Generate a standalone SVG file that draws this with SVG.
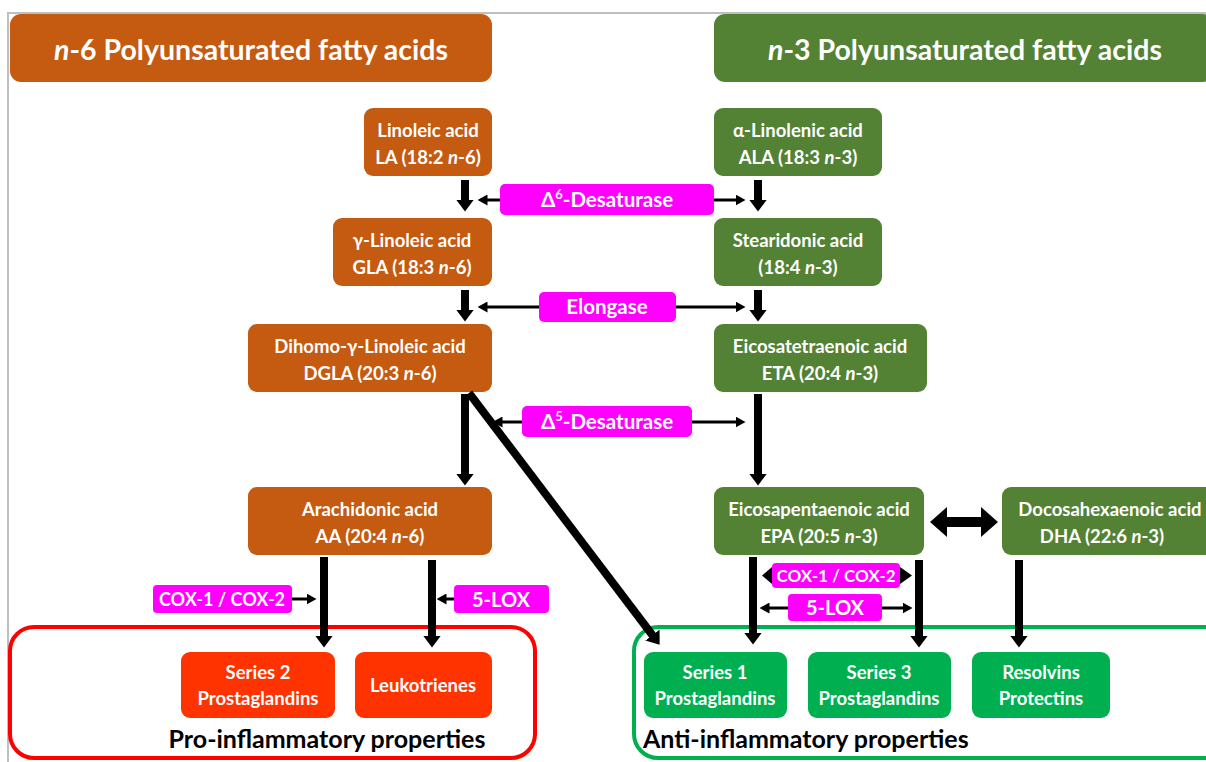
<svg xmlns="http://www.w3.org/2000/svg" width="1206" height="762" viewBox="0 0 1206 762">
<defs>
<style>
text{font-family:Lato,"Carlito","Liberation Sans",sans-serif;font-weight:bold;}
.w{fill:#fff;text-anchor:middle;font-size:18.5px;}
.hd{fill:#fff;text-anchor:middle;font-size:28.5px;}
.en{fill:#fff;text-anchor:middle;font-size:20.5px;}
.cox{fill:#fff;text-anchor:middle;font-size:18px;}
.brown{fill:#C55A11;}
.green{fill:#548235;}
.mag{fill:#FF00FF;}
.red{fill:#FF3300;}
.lg{fill:#00B050;}
.big{stroke:#000;stroke-width:8;fill:none;marker-end:url(#bh);}
.sm{stroke:#000;stroke-width:3;fill:none;marker-end:url(#sh);}
.it{font-style:italic;}
.cap{font-size:25px;fill:#000;}
</style>
<marker id="bh" viewBox="0 0 12 18" markerWidth="12" markerHeight="18" refX="0.5" refY="9" orient="auto" markerUnits="userSpaceOnUse"><path d="M0,0 L12,9 L0,18 z" fill="#000"/></marker>
<marker id="sh" viewBox="0 0 10 11" markerWidth="10" markerHeight="11" refX="0.5" refY="5.5" orient="auto" markerUnits="userSpaceOnUse"><path d="M0,0 L10,5.5 L0,11 z" fill="#000"/></marker>
</defs>
<rect width="1206" height="762" fill="#fff"/>
<path d="M8,762 L8,13 L1206,13" fill="none" stroke="#BFBFBF" stroke-width="2"/>

<g id="header-n6"><rect x="10" y="14" width="482" height="68" rx="11" class="brown"/><text x="251" y="60" class="hd"><tspan class="it">n</tspan>-6 Polyunsaturated fatty acids</text></g>
<g id="header-n3"><rect x="714" y="14" width="500" height="68" rx="11" class="green"/><text x="965" y="60" class="hd"><tspan class="it">n</tspan>-3 Polyunsaturated fatty acids</text></g>

<g id="LA"><rect x="364" y="108" width="128" height="68" rx="9" class="brown"/><text x="428" y="137" class="w">Linoleic acid</text><text x="428" y="164" class="w">LA (18:2 <tspan class="it">n</tspan>-6)</text></g>
<g id="ALA"><rect x="714" y="108" width="168" height="68" rx="9" class="green"/><text x="798" y="137" class="w">α-Linolenic acid</text><text x="798" y="164" class="w">ALA (18:3 <tspan class="it">n</tspan>-3)</text></g>
<g id="GLA"><rect x="333" y="218" width="159" height="68" rx="9" class="brown"/><text x="412" y="247" class="w">γ-Linoleic acid</text><text x="412" y="274" class="w">GLA (18:3 <tspan class="it">n</tspan>-6)</text></g>
<g id="SDA"><rect x="714" y="218" width="168" height="68" rx="9" class="green"/><text x="798" y="247" class="w">Stearidonic acid</text><text x="798" y="274" class="w">(18:4 <tspan class="it">n</tspan>-3)</text></g>
<g id="DGLA"><rect x="248" y="324" width="244" height="68" rx="9" class="brown"/><text x="370" y="353" class="w">Dihomo-γ-Linoleic acid</text><text x="370" y="380" class="w">DGLA (20:3 <tspan class="it">n</tspan>-6)</text></g>
<g id="ETA"><rect x="714" y="324" width="213" height="68" rx="9" class="green"/><text x="820" y="353" class="w">Eicosatetraenoic acid</text><text x="820" y="380" class="w">ETA (20:4 <tspan class="it">n</tspan>-3)</text></g>
<g id="AA"><rect x="248" y="487" width="244" height="68" rx="9" class="brown"/><text x="370" y="516" class="w">Arachidonic acid</text><text x="370" y="543" class="w">AA (20:4 <tspan class="it">n</tspan>-6)</text></g>
<g id="EPA"><rect x="714" y="487" width="210" height="68" rx="9" class="green"/><text x="819" y="516" class="w">Eicosapentaenoic acid</text><text x="819" y="543" class="w">EPA (20:5 <tspan class="it">n</tspan>-3)</text></g>
<g id="DHA"><rect x="1002" y="487" width="214" height="68" rx="9" class="green"/><text x="1110" y="516" class="w">Docosahexaenoic acid</text><text x="1102" y="543" class="w">DHA (22:6 <tspan class="it">n</tspan>-3)</text></g>

<g id="pro-box"><rect x="10" y="627" width="525" height="131" rx="24" fill="none" stroke="#FF0000" stroke-width="4"/><text x="327" y="748" class="cap" text-anchor="middle">Pro-inflammatory properties</text></g>
<g id="anti-box"><rect x="634" y="627" width="600" height="131" rx="24" fill="none" stroke="#00B050" stroke-width="4"/><text x="643" y="748" class="cap">Anti-inflammatory properties</text></g>

<g id="S2"><rect x="181" y="652" width="154" height="66" rx="9" class="red"/><text x="258" y="679" class="w">Series 2</text><text x="258" y="705" class="w">Prostaglandins</text></g>
<g id="LT"><rect x="355" y="652" width="137" height="66" rx="9" class="red"/><text x="423" y="692" class="w">Leukotrienes</text></g>
<g id="S1"><rect x="644" y="652" width="143" height="66" rx="9" class="lg"/><text x="715" y="679" class="w">Series 1</text><text x="715" y="705" class="w">Prostaglandins</text></g>
<g id="S3"><rect x="808" y="652" width="143" height="66" rx="9" class="lg"/><text x="879" y="679" class="w">Series 3</text><text x="879" y="705" class="w">Prostaglandins</text></g>
<g id="RP"><rect x="972" y="652" width="138" height="66" rx="9" class="lg"/><text x="1041" y="679" class="w">Resolvins</text><text x="1041" y="705" class="w">Protectins</text></g>

<g id="D6"><rect x="500" y="184" width="214" height="31" rx="5" class="mag"/><text x="607" y="207" class="en">Δ<tspan font-size="13" dy="-8">6</tspan><tspan dy="8">-Desaturase</tspan></text></g>
<g id="ELO"><rect x="539" y="292" width="137" height="30" rx="5" class="mag"/><text x="607" y="314" class="en">Elongase</text></g>
<g id="D5"><rect x="522" y="406" width="170" height="31" rx="5" class="mag"/><text x="607" y="429" class="en">Δ<tspan font-size="13" dy="-8">5</tspan><tspan dy="8">-Desaturase</tspan></text></g>
<g id="COX-L"><rect x="153" y="585" width="139" height="28" rx="4" class="mag"/><text x="222" y="606" class="cox">COX-1 / COX-2</text></g>
<g id="LOX-L"><rect x="454" y="585" width="95" height="28" rx="4" class="mag"/><text x="501" y="607" class="en" style="font-size:20px">5-LOX</text></g>
<g id="COX-R"><rect x="772" y="563" width="128" height="25" rx="4" class="mag"/><text x="836" y="582" class="cox" style="font-size:17px">COX-1 / COX-2</text></g>
<g id="LOX-R"><rect x="788" y="594" width="94" height="27" rx="4" class="mag"/><text x="835" y="615" class="en" style="font-size:20px">5-LOX</text></g>

<g id="connectors">
<line x1="465" y1="180" x2="465" y2="200" class="big"/>
<line x1="758" y1="180" x2="758" y2="200" class="big"/>
<line x1="465" y1="290" x2="465" y2="310" class="big"/>
<line x1="758" y1="290" x2="758" y2="310" class="big"/>
<line x1="465" y1="394" x2="465" y2="474" class="big"/>
<line x1="758" y1="394" x2="758" y2="474" class="big"/>
<line x1="469" y1="393" x2="652.7" y2="635.5" class="big" stroke-width="7"/>
<line x1="324" y1="557" x2="324" y2="636" class="big"/>
<line x1="432" y1="560" x2="432" y2="636" class="big"/>
<line x1="753" y1="557" x2="753" y2="633" class="big"/>
<line x1="919" y1="560" x2="919" y2="636" class="big"/>
<line x1="1019" y1="560" x2="1019" y2="636" class="big"/>
<line x1="500" y1="200" x2="487" y2="200" class="sm"/>
<line x1="714" y1="200" x2="736" y2="200" class="sm"/>
<line x1="539" y1="307" x2="487" y2="307" class="sm"/>
<line x1="676" y1="307" x2="736" y2="307" class="sm"/>
<line x1="522" y1="422" x2="502" y2="422" class="sm"/>
<line x1="692" y1="422" x2="736" y2="422" class="sm"/>
<line x1="292" y1="599" x2="307" y2="599" class="sm"/>
<line x1="454" y1="599" x2="446" y2="599" class="sm"/>
<path d="M772,567 L762,575.5 L772,584 z M900,567 L912,575.5 L900,584 z" fill="#000"/>
<line x1="788" y1="608" x2="769" y2="608" class="sm"/>
<line x1="882" y1="608" x2="903" y2="608" class="sm"/>
<polygon points="930,522 947,507 947,517 981,517 981,507 998,522 981,537 981,527 947,527 947,537" fill="#000"/>
</g>
</svg>
